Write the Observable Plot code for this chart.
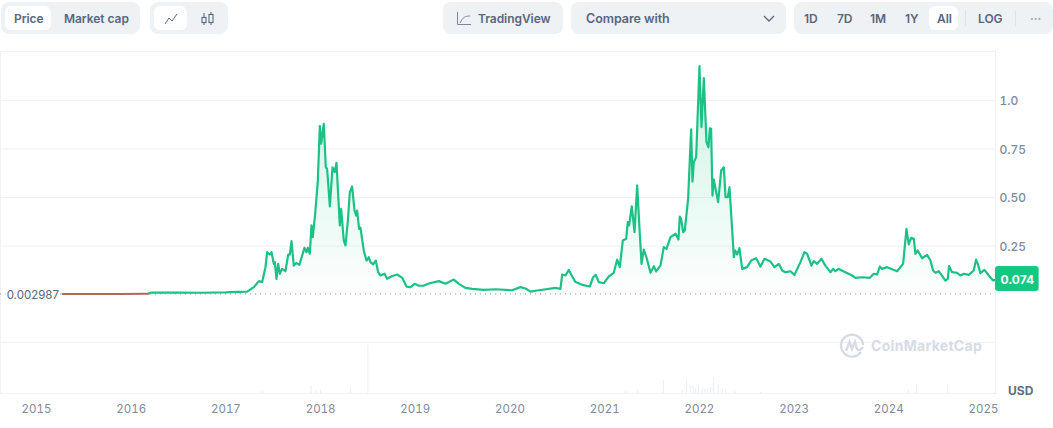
<!DOCTYPE html>
<html><head><meta charset="utf-8">
<script src="https://cdn.jsdelivr.net/npm/d3@7"></script>
<script src="https://cdn.jsdelivr.net/npm/@observablehq/plot@0.6"></script>
<style>
html,body{margin:0;padding:0;background:#fff;width:1053px;height:428px;overflow:hidden;font-family:Inter,sans-serif}
#bar{position:relative;height:51px;width:1053px;font-size:12px;font-weight:600;color:#58667e;letter-spacing:-.05px}
#bar .g{position:absolute;top:2px;height:32px;background:#eff2f5;border-radius:8px}
#bar .p{position:absolute;top:6px;height:24px;background:#fff;border-radius:6px}
#bar .t{position:absolute;top:3px;height:32px;line-height:32px;white-space:nowrap}
#bar .d{position:absolute;top:10px;height:16px;width:1px;background:#dfe3ea}
#bar svg{position:absolute}
#chart{position:relative;width:1053px;height:377px}
#chart svg{display:block}
#wm{position:absolute;left:838px;top:281px;width:150px;height:28px;color:#d6dbe5;font-weight:700;font-size:14px;letter-spacing:.3px;line-height:28px;padding-left:33px;box-sizing:border-box}
#wm svg{position:absolute;left:1px;top:1px}
#usd{position:absolute;left:1008px;top:332px;font-size:12px;font-weight:700;color:#616e85}
</style></head><body>
<div id="bar">
  <div class="g" style="left:1px;width:139px"></div>
  <div class="p" style="left:5px;width:46px"></div>
  <div class="t" style="left:14px">Price</div>
  <div class="t" style="left:64px">Market cap</div>
  <div class="g" style="left:150px;width:78px"></div>
  <div class="p" style="left:154px;width:33px"></div>
  <svg style="left:164px;top:12px" width="14" height="14" fill="none" stroke="#58667e" stroke-width="1"><path d="M1 12 L5 6 L8 9 L13 2"/></svg>
  <svg style="left:200px;top:11px" width="16" height="16" fill="none" stroke="#58667e" stroke-width="1.1"><path d="M4 2V14M11 1V14"/><rect x="2" y="6.5" width="4" height="5" fill="#eff2f5"/><rect x="9" y="3.5" width="4" height="8" fill="#eff2f5"/></svg>
  <div class="g" style="left:443px;width:120px"></div>
  <svg style="left:456px;top:11px" width="17" height="15" fill="none" stroke="#7d879b" stroke-width="1"><path d="M1.5 1V13.5H15M4 12 C7 6,9 5,14 5"/></svg>
  <div class="t" style="left:478px">TradingView</div>
  <div class="g" style="left:571px;width:215px"></div>
  <div class="t" style="left:586px;font-size:12.5px">Compare with</div>
  <svg style="left:762px;top:14px" width="14" height="9" fill="none" stroke="#58667e" stroke-width="1.3"><path d="M2 2 L7 7 L12 2"/></svg>
  <div class="g" style="left:794px;width:259px"></div>
  <div class="p" style="left:929px;width:29px"></div>
  <div class="t" style="left:804px">1D</div>
  <div class="t" style="left:837px">7D</div>
  <div class="t" style="left:870px">1M</div>
  <div class="t" style="left:905px">1Y</div>
  <div class="t" style="left:937px">All</div>
  <div class="d" style="left:965px"></div>
  <div class="t" style="left:978px">LOG</div>
  <div class="d" style="left:1015px"></div>
  <div class="t" style="left:1030px;color:#98a1b2">···</div>
</div>
<div id="chart">
  <div id="wm"><svg width="26" height="26" fill="none" stroke="#d6dbe5" stroke-width="2.4"><path d="M22 19 A11 11 0 1 1 24 12"/><path d="M7 18 L10.5 9 L13 16 L16 9 L18 16 Q20 19 24 14"/></svg>CoinMarketCap</div>
  <div id="usd">USD</div>
</div>
<script>
const years = [2015,2016,2017,2018,2019,2020,2021,2022,2023,2024,2025];
const gridValues = [0.25,0.5,0.75,1];
const gridLabels = ["0.25","0.50","0.75","1.0"];
const startPrice = 0.002987;
const lastPrice = 0.074;
const panelDivider = -0.2474;

const redYears  = [2015.275,2015.6,2015.9,2016.183];
const redValues = [0.0032,0.0030,0.0030,0.0040];

const lineYears = [2016.183,2016.215,2016.5,2016.75,2017.0,2017.049,2017.225,2017.295,2017.348,2017.383,2017.418,2017.436,2017.464,2017.482,2017.506,2017.517,2017.534,2017.552,2017.570,2017.594,2017.629,2017.658,2017.675,2017.693,2017.717,2017.742,2017.777,2017.798,2017.830,2017.851,2017.865,2017.886,2017.904,2017.918,2017.946,2017.971,2017.992,2018.006,2018.034,2018.055,2018.069,2018.098,2018.126,2018.150,2018.168,2018.203,2018.217,2018.245,2018.263,2018.288,2018.309,2018.333,2018.358,2018.376,2018.386,2018.407,2018.421,2018.456,2018.485,2018.509,2018.527,2018.555,2018.583,2018.608,2018.633,2018.675,2018.703,2018.756,2018.809,2018.862,2018.907,2018.950,2018.992,2019.038,2019.090,2019.153,2019.249,2019.319,2019.407,2019.460,2019.530,2019.600,2019.724,2019.847,2020.023,2020.111,2020.164,2020.217,2020.305,2020.410,2020.481,2020.533,2020.551,2020.586,2020.621,2020.646,2020.692,2020.762,2020.843,2020.878,2020.906,2020.938,2020.991,2021.044,2021.096,2021.132,2021.160,2021.191,2021.227,2021.244,2021.258,2021.286,2021.315,2021.343,2021.367,2021.389,2021.413,2021.441,2021.484,2021.519,2021.543,2021.589,2021.624,2021.653,2021.695,2021.748,2021.779,2021.793,2021.807,2021.829,2021.846,2021.881,2021.913,2021.927,2021.941,2021.966,2022.001,2022.022,2022.047,2022.075,2022.096,2022.110,2022.124,2022.138,2022.152,2022.198,2022.230,2022.258,2022.276,2022.300,2022.318,2022.339,2022.364,2022.378,2022.399,2022.423,2022.452,2022.504,2022.547,2022.599,2022.645,2022.687,2022.751,2022.793,2022.839,2022.874,2022.909,2022.962,2023.004,2023.067,2023.109,2023.138,2023.183,2023.208,2023.243,2023.289,2023.331,2023.384,2023.412,2023.437,2023.472,2023.542,2023.613,2023.648,2023.718,2023.799,2023.842,2023.877,2023.905,2023.930,2023.982,2024.088,2024.151,2024.187,2024.211,2024.236,2024.264,2024.282,2024.306,2024.352,2024.405,2024.440,2024.468,2024.493,2024.528,2024.598,2024.623,2024.637,2024.669,2024.721,2024.757,2024.792,2024.845,2024.897,2024.922,2024.940,2024.968,2025.010,2025.056,2025.102,2025.127];
const lineValues = [0.005,0.010,0.010,0.009,0.011,0.012,0.015,0.038,0.069,0.064,0.141,0.218,0.206,0.218,0.158,0.167,0.081,0.158,0.107,0.132,0.120,0.206,0.206,0.275,0.149,0.162,0.153,0.189,0.241,0.218,0.241,0.210,0.356,0.296,0.433,0.588,0.868,0.777,0.880,0.656,0.648,0.454,0.656,0.631,0.679,0.356,0.442,0.278,0.253,0.381,0.527,0.557,0.433,0.407,0.433,0.338,0.344,0.227,0.175,0.192,0.167,0.155,0.175,0.115,0.098,0.107,0.081,0.095,0.103,0.086,0.041,0.038,0.055,0.045,0.046,0.058,0.069,0.055,0.077,0.055,0.034,0.029,0.024,0.027,0.022,0.038,0.031,0.015,0.022,0.029,0.034,0.029,0.103,0.098,0.127,0.103,0.064,0.050,0.041,0.089,0.101,0.064,0.058,0.093,0.112,0.180,0.141,0.278,0.287,0.373,0.356,0.455,0.321,0.562,0.347,0.158,0.232,0.192,0.112,0.146,0.119,0.149,0.244,0.235,0.296,0.313,0.284,0.402,0.390,0.321,0.330,0.493,0.851,0.582,0.682,0.708,1.177,0.863,1.115,0.785,0.759,0.857,0.854,0.510,0.593,0.476,0.639,0.656,0.502,0.502,0.553,0.390,0.192,0.227,0.206,0.239,0.132,0.141,0.175,0.187,0.144,0.184,0.170,0.141,0.158,0.124,0.115,0.120,0.101,0.167,0.218,0.210,0.149,0.172,0.158,0.184,0.149,0.115,0.132,0.120,0.132,0.115,0.098,0.086,0.089,0.086,0.107,0.103,0.144,0.132,0.141,0.120,0.158,0.338,0.258,0.292,0.287,0.210,0.227,0.187,0.204,0.175,0.124,0.112,0.120,0.072,0.081,0.146,0.115,0.112,0.098,0.107,0.101,0.124,0.180,0.158,0.110,0.127,0.098,0.072,0.076];

const volumeYears  = [2017.386,2017.900,2017.946,2018.000,2018.316,2018.500,2021.220,2021.346,2021.620,2021.820,2021.864,2021.906,2021.937,2021.960,2021.990,2022.030,2022.060,2022.086,2022.120,2022.149,2022.200,2022.240,2022.276,2022.380,2022.645,2024.208,2024.290,2024.620];
const volumeValues = [2,8,3,3,5,48,2,4,13,3,13,8,7,5,7,5,4,5,6,16,8,5,4,2,1,3,9,9];
const volumePerPriceUnit = 194;   // volume panel shares the y scale
const volumeBase = -0.5103;

const green = "#16c784";
const priceRows = lineYears.map((x,i)=>({x,y:lineValues[i]}));
const redRows = redYears.map((x,i)=>({x,y:redValues[i]}));
const volumeRows = volumeYears.map((x,i)=>({x,y:volumeBase+volumeValues[i]/volumePerPriceUnit}));

const gradient = () => {
  const defs = d3.create("svg:defs");
  const g = defs.append("linearGradient").attr("id","priceFade").attr("x1",0).attr("x2",0).attr("y1",0).attr("y2",1);
  g.append("stop").attr("offset","0%").attr("stop-color",green).attr("stop-opacity",0.22);
  g.append("stop").attr("offset","100%").attr("stop-color",green).attr("stop-opacity",0.01);
  return defs.node();
};

const plot = Plot.plot({
  width:1053, height:377,
  marginLeft:0, marginRight:58, marginTop:0, marginBottom:35,
  x:{type:"linear", domain:[2014.62,2025.127]},
  y:{type:"linear", domain:[volumeBase,1.2526]},
  style:{fontFamily:"Inter, sans-serif", fontSize:"12px", background:"#fff", color:"#808a9d", overflow:"visible"},
  marks:[
    gradient,
    Plot.frame({stroke:"#eff2f5", strokeWidth:1}),
    Plot.ruleY(gridValues,{stroke:"#f0f2f5"}),
    Plot.ruleY([panelDivider],{stroke:"#eff2f5"}),
    Plot.ruleX(volumeRows,{x:"x",y1:volumeBase,y2:"y",stroke:"#eef0f3",strokeWidth:1.2}),
    Plot.areaY(priceRows,{x:"x",y1:0,y2:"y",fill:"url(#priceFade)"}),
    Plot.ruleY([startPrice],{stroke:"#8d94a3",strokeDasharray:"1,4",strokeWidth:1}),
    Plot.line(redRows,{x:"x",y:"y",stroke:"#b0695f",strokeWidth:2}),
    Plot.line(priceRows,{x:"x",y:"y",stroke:"#1cc285",strokeWidth:2.2,strokeLinejoin:"round"}),
    Plot.text([startPrice],{x:2014.685,y:d=>d,text:d=>String(d),textAnchor:"start",fill:"#58667e",stroke:"#fff",strokeWidth:4,fontSize:11.5,dy:1}),
    Plot.axisY({anchor:"right",ticks:gridValues,tickFormat:d=>gridLabels[gridValues.indexOf(d)],tickSize:0,tickPadding:4,label:null,fill:"#808a9d",fontWeight:500,dy:1}),
    Plot.axisX({ticks:years,tickFormat:d=>String(d),tickSize:0,tickPadding:11,label:null,fill:"#808a9d",fontSize:11.5}),
    Plot.rect([lastPrice],{x1:2025.127,x2:2025.588,y1:0.015,y2:0.144,fill:green,rx:3}),
    Plot.text([lastPrice],{x:2025.357,y:d=>d,text:d=>String(d),fill:"#fff",fontWeight:700,fontSize:12})
  ]
});
document.getElementById("chart").prepend(plot);
</script>
</body></html>
